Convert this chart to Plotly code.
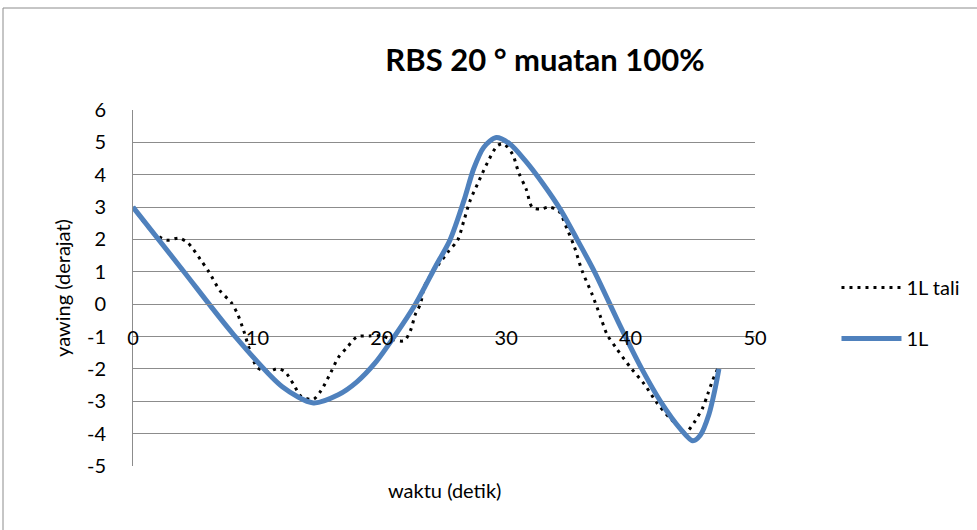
import plotly.graph_objects as go

# 1L tali (dotted)
tali_x = [0, 1.6, 2.7, 3.7, 4.4, 5.4, 6.1, 7.0, 7.9, 8.4, 8.9, 9.4, 10.0, 10.9, 11.6, 12.2,
          12.9, 13.5, 14.5, 15.1, 15.9, 16.5, 17.2, 18.0, 19.0, 20.0, 20.9, 21.8, 22.3, 22.7,
          23.1, 23.5, 25.3, 26.1, 26.6, 27.1, 27.8, 28.5, 29.3, 29.8, 30.5, 31.0, 31.6, 32.1,
          32.8, 33.4, 34.2, 34.9, 35.5, 36.1, 36.9, 37.6, 38.1, 38.9, 40.0, 41.1, 42.1, 43.1,
          43.8, 44.4, 45.1, 45.8, 46.2, 46.6, 47.0]
tali_y = [3.0, 2.22, 1.98, 2.04, 1.9, 1.39, 1.0, 0.41, 0.05, -0.3, -0.82, -1.44, -1.96, -2.08, -1.99, -2.08,
          -2.47, -2.84, -2.94, -2.68, -2.11, -1.65, -1.34, -1.01, -0.98, -0.98, -1.1, -1.13, -0.82, -0.31,
          0.0, 0.62, 1.6, 1.98, 2.58, 3.2, 3.8, 4.38, 4.9, 4.95, 4.64, 4.07, 3.56, 2.99,
          2.94, 3.0, 2.89, 2.32, 1.75, 1.03, 0.31, -0.41, -0.93, -1.39, -1.96, -2.47, -3.04, -3.5,
          -3.76, -3.97, -3.66, -3.2, -2.78, -2.35, -2.0]

# 1L (solid blue)
l1_x = [0, 4, 8, 12, 14.5, 16.5, 18, 19.5, 21, 22.7, 24.3, 25.5, 26.6, 27.4, 28.2, 29.2, 30.3,
        31.5, 33, 34.4, 35.7, 37.1, 39.2, 40.9, 42.4, 44.0, 45.0, 45.6, 46.3, 46.8, 47.1]
l1_y = [3.0, 1.05, -0.9, -2.55, -3.05, -2.8, -2.4, -1.8, -1.0, 0.0, 1.15, 2.0, 3.2, 4.2, 4.85, 5.15, 4.95,
        4.45, 3.7, 2.9, 2.0, 1.0, -0.7, -2.0, -3.0, -3.85, -4.22, -4.05, -3.4, -2.6, -2.0]

x_ticks = [0, 10, 20, 30, 40, 50]
y_ticks = list(range(-5, 7))
y_tick_text = [str(v) for v in y_ticks]

FONT = "Lato"
GRID = "#8c8c8c"

fig = go.Figure()
fig.add_trace(go.Scatter(x=tali_x, y=tali_y, mode="lines", name="1L tali", legendgroup="a",
                         line=dict(color="black", width=3, dash="3px,5px", shape="spline", smoothing=0.8)))
fig.add_trace(go.Scatter(x=l1_x, y=l1_y, mode="lines", name="1L", legendgroup="b",
                         line=dict(color="#4F81BD", width=5, shape="spline", smoothing=0.8)))

fig.update_layout(
    width=977, height=530,
    margin=dict(l=133, r=222, t=110, b=64),
    paper_bgcolor="white", plot_bgcolor="white",
    font=dict(family=FONT, color="black", size=20),
    title=dict(text="<b>RBS 20 ° muatan 100%</b>", x=545 / 977, xanchor="center",
               y=1 - 60 / 530, yanchor="middle", font=dict(size=31, family=FONT)),
    showlegend=True,
    legend=dict(x=1.131, y=0.43, xanchor="left", yanchor="middle",
                font=dict(size=20), tracegroupgap=22, itemwidth=60,
                bgcolor="rgba(0,0,0,0)"),
    xaxis=dict(range=[0, 50], tickvals=x_ticks, showgrid=False, zeroline=False,
               showline=True, linecolor=GRID, linewidth=1, ticks="",
               anchor="free", position=5 / 11, tickfont=dict(size=20), ticklabelstandoff=16),
    yaxis=dict(range=[-5, 6], tickvals=y_ticks, ticktext=y_tick_text, showgrid=True,
               gridcolor=GRID, gridwidth=1,
               zeroline=False, showline=True, linecolor=GRID, linewidth=1, ticks="",
               ticklabelstandoff=22, tickfont=dict(size=20),
               title=dict(text="yawing (derajat)", font=dict(size=20), standoff=10)),
    annotations=[dict(text="waktu (detik)", xref="paper", yref="paper", x=0.5, y=-0.067,
                      xanchor="center", yanchor="middle", showarrow=False, font=dict(size=20))],
    shapes=[dict(type="rect", xref="paper", yref="paper", x0=-0.209, x1=1.5, y0=-0.5, y1=1.2865,
                 line=dict(color="#8c8c8c", width=1), fillcolor="rgba(0,0,0,0)", layer="below")],
)

fig.write_html("out.html", config={"displayModeBar": False},
               post_script="document.body.style.margin='0';")
